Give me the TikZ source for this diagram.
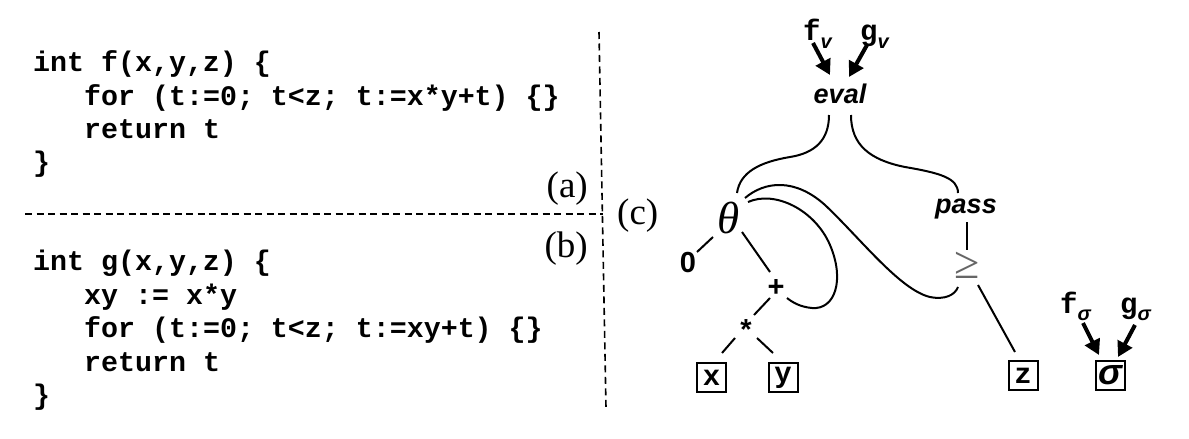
\documentclass[tikz,border=0pt]{standalone}
\usepackage{fontspec}
\setmainfont{Liberation Serif}
\newfontfamily\codefont{Liberation Mono}
\newfontfamily\arialfont{Liberation Sans}
\usetikzlibrary{arrows.meta,calc}
\newcommand{\cbf}{\codefont\bfseries}
\begin{document}
\begin{tikzpicture}[x=1pt,y=-1pt,
  code/.style={anchor=base west, inner sep=0pt, font=\cbf\fontsize{28.3}{33}\selectfont},
  lab/.style={inner sep=0pt, font=\fontsize{37}{40}\selectfont},
  op/.style={inner sep=0pt, font=\arialfont\bfseries\itshape\fontsize{27}{30}\selectfont},
  sym/.style={inner sep=0pt, font=\arialfont\bfseries\fontsize{29}{30}\selectfont},
  leaf/.style={draw, line width=2pt, minimum size=29pt, inner sep=0pt, font=\cbf\fontsize{29}{29}\selectfont},
  edge/.style={line width=2pt},
  bigarrow/.style={line width=4pt, -{Triangle[length=15pt,width=16pt]}},
  sep/.style={line width=1.6pt, dash pattern=on 7pt off 4.5pt},
  tag/.style={anchor=base west, inner sep=0pt, font=\cbf\fontsize{29}{29}\selectfont}
]
\useasboundingbox (0,0) rectangle (1189,439);

% code (a)
\node[code] (f1) at (33,71.7) {int f(x,y,z) \{};
\node[code] (f2) at (84,105) {for (t:=0; t<z; t:=x*y+t) \{\}};
\node[code] (f3) at (84,138.3) {return t};
\node[code] (f4) at (33,171.7) {\}};
% code (b)
\node[code] (g1) at (33,270.7) {int g(x,y,z) \{};
\node[code] (g2) at (84,304) {xy := x*y};
\node[code] (g3) at (84,337.5) {for (t:=0; t<z; t:=xy+t) \{\}};
\node[code] (g4) at (84,371) {return t};
\node[code] (g5) at (33,404.5) {\}};

% separators
\draw[sep] (25,214) -- (603,214);
\draw[sep] (599,32) -- (606,408);

\node[lab, anchor=base east] (la) at (588,197) {(a)};
\node[lab, anchor=base east] (lb) at (588,257) {(b)};
\node[lab, anchor=base west] (lc) at (617,224) {(c)};

% tree
\node[op, anchor=base] (eval) at (840,103) {eval};
\node[op, anchor=base] (pass) at (966,213) {pass};
\node[inner sep=0pt, font=\itshape\fontsize{45}{45}\selectfont] (theta) at (729,218) {θ};
\node[sym] (zero) at (688,263) {0};
\node[sym] (plus) at (776,288) {+};
\node[sym] (star) at (746,330) {*};
\node[inner sep=0pt, text=black!60, font=\fontsize{46}{46}\selectfont] (geq) at (967,265) {≥};
\node[leaf] (x) at (711.5,377.5) {x};
\node[leaf] (y) at (783,377.5) {y};
\node[leaf] (z) at (1023,375.5) {z};
\node[leaf, font=\arialfont\bfseries\itshape\fontsize{36}{36}\selectfont] (sigma) at (1110,375) {σ};

\node[tag] (fv) at (803,40) {f\raisebox{-8pt}{\arialfont\bfseries\itshape\fontsize{20}{20}\selectfont v}};
\node[tag] (gv) at (860,40) {g\raisebox{-8pt}{\arialfont\bfseries\itshape\fontsize{20}{20}\selectfont v}};
\node[tag] (fs) at (1060,313) {f\raisebox{-7pt}{\arialfont\bfseries\itshape\fontsize{20}{20}\selectfont σ}};
\node[tag] (gs) at (1120,313) {g\raisebox{-7pt}{\arialfont\bfseries\itshape\fontsize{20}{20}\selectfont σ}};

\draw[bigarrow] ($(fv.base west)+(10,3)$) -- ($(eval.base)+(-10,-28)$);
\draw[bigarrow] ($(gv.base west)+(7,5)$) -- ($(eval.base)+(9,-26)$);
\draw[bigarrow] ($(fs.base west)+(23,10)$) -- ($(sigma)+(-11,-20)$);
\draw[bigarrow] ($(gs.base west)+(15,12)$) -- ($(sigma)+(8,-18)$);

\draw[edge] ($(zero)+(9,-11)$) -- ($(theta)+(-16,19)$);
\draw[edge] ($(theta)+(13,14)$) -- ($(plus)+(-6,-16)$);
\draw[edge] ($(plus)+(-6,10)$) -- ($(star)+(8,-15)$);
\draw[edge] ($(star)+(-11,8)$) -- ($(x)+(10.5,-24.5)$);
\draw[edge] ($(star)+(11,8)$) -- ($(y)+(-10,-24.5)$);
\draw[edge] ($(pass.base)+(1,9)$) -- ($(geq)+(0,-15)$);
\draw[edge] ($(geq)+(11,20)$) -- ($(z)+(-8,-23.5)$);

\draw[edge] ($(eval.base)+(-11,12)$) .. controls (829,140) and (815,153) .. (790,157)
  .. controls (760,162) and (740,172) .. ($(theta)+(8,-25)$);
\draw[edge] ($(eval.base)+(11,12)$) .. controls (851,145) and (870,160) .. (905,167)
  .. controls (940,173) and (958,178) .. ($(pass.base)+(-8,-20)$);
\draw[edge] ($(theta)+(16,-20)$) .. controls (765,181) and (795,178) .. (825,205)
  .. controls (860,238) and (900,290) .. (930,297)
  .. controls (945,300) and (955,295) .. ($(geq)+(-9,22)$);
\draw[edge] ($(theta)+(19,-16)$) .. controls (775,190) and (815,210) .. (830,245)
  .. controls (845,280) and (835,310) .. (812,308)
  .. controls (800,307) and (792,302) .. ($(plus)+(11,10)$);
\end{tikzpicture}
\end{document}
